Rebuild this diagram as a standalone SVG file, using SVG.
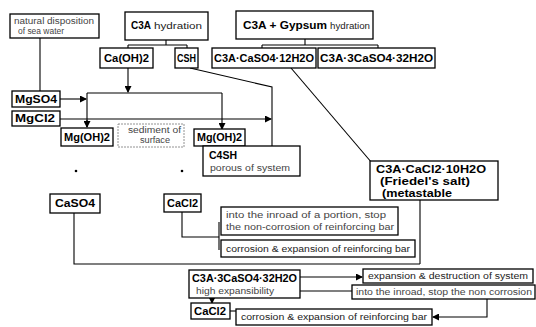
<svg xmlns="http://www.w3.org/2000/svg" width="536" height="327" viewBox="0 0 536 327">
<defs>
<marker id="ar" markerWidth="7" markerHeight="7" refX="6" refY="3.5" orient="auto" markerUnits="userSpaceOnUse">
<path d="M0,0 L7,3.5 L0,7 z" fill="#000"/>
</marker>
<style>
.b{fill:#fff;stroke:#000;stroke-width:1.3}
.lb{fill:none;stroke:#777;stroke-width:0.8;stroke-dasharray:2 1}
.c{fill:none;stroke:#000;stroke-width:1.1}
.t{font-family:"Liberation Sans",Arial,sans-serif;font-size:10.5px;font-weight:bold;fill:#000}
.s{font-family:"Liberation Sans",Arial,sans-serif;font-size:8.5px;fill:#444}
.r{font-family:"Liberation Sans",Arial,sans-serif;font-size:8.5px;fill:#222}
</style>
</defs>
<rect width="536" height="327" fill="#fff"/>
<g id="connectors">
<path class="c" d="M40,38 V91"/>
<path class="c" d="M166,40 V45 M128,45 H187 M128,45 V48 M187,45 V48"/>
<path class="c" d="M305,39 V45 M262,45 H378 M262,45 V48 M378,45 V48"/>
<path class="c" d="M128,68 V92" marker-end="url(#ar)"/>
<path class="c" d="M87,93 H222 M87,93 V127"/>
<path class="c" d="M87,120 V127" marker-end="url(#ar)"/>
<path class="c" d="M60,99 H86" marker-end="url(#ar)"/>
<path class="c" d="M222,93 V129" marker-end="url(#ar)"/>
<path class="c" d="M60,119 H271" marker-end="url(#ar)"/>
<path class="c" d="M190,68 L272,87 V146"/>
<path class="c" d="M291,68 L372,163"/>
<path class="c" d="M182,212 V237 H219 M219,222 V250"/>
<path class="c" d="M420,200 V264 M74,212 V264 H420"/>
<path class="c" d="M300,277 H362" marker-end="url(#ar)"/>
<path class="c" d="M300,291 H352"/>
<path class="c" d="M212,298 V303" marker-end="url(#ar)"/>
<path class="c" d="M230,311 H236"/>
<path class="c" d="M487,299 V317 H433" marker-end="url(#ar)"/>
</g>
<g id="n-natural">
<rect class="b" x="10" y="14" width="89" height="24"/>
<text class="s" x="14" y="24" textLength="80" lengthAdjust="spacingAndGlyphs">natural disposition</text>
<text class="s" x="18" y="34" textLength="46" lengthAdjust="spacingAndGlyphs">of sea water</text>
</g>
<g id="n-c3a">
<rect class="b" x="125" y="12" width="83" height="28"/>
<text class="t" x="131" y="29" textLength="20" lengthAdjust="spacingAndGlyphs">C3A</text>
<text class="r" x="154" y="29" textLength="48" lengthAdjust="spacingAndGlyphs">hydration</text>
</g>
<g id="n-gypsum">
<rect class="b" x="236" y="11" width="137" height="28"/>
<text class="t" x="243" y="29" textLength="84" lengthAdjust="spacingAndGlyphs">C3A + Gypsum</text>
<text class="r" x="330" y="29" textLength="40" lengthAdjust="spacingAndGlyphs">hydration</text>
</g>
<g id="n-caoh">
<rect class="b" x="100" y="48" width="53" height="20"/>
<text class="t" x="104" y="62" textLength="45" lengthAdjust="spacingAndGlyphs">Ca(OH)2</text>
</g>
<g id="n-csh">
<rect class="b" x="175" y="48" width="23" height="20"/>
<text class="t" x="177" y="62" textLength="19" lengthAdjust="spacingAndGlyphs">CSH</text>
</g>
<g id="n-mono">
<rect class="b" x="212" y="48" width="104" height="20"/>
<text class="t" x="214" y="62" textLength="100" lengthAdjust="spacingAndGlyphs">C3A·CaSO4·12H2O</text>
</g>
<g id="n-ettr">
<rect class="b" x="318" y="48" width="117" height="20"/>
<text class="t" x="320" y="62" textLength="113" lengthAdjust="spacingAndGlyphs">C3A·3CaSO4·32H2O</text>
</g>
<g id="n-mgso4">
<rect class="b" x="12" y="91" width="48" height="16"/>
<text class="t" x="15" y="103" textLength="42" lengthAdjust="spacingAndGlyphs">MgSO4</text>
</g>
<g id="n-mgcl2">
<rect class="b" x="12" y="111" width="48" height="15"/>
<text class="t" x="15" y="122" textLength="40" lengthAdjust="spacingAndGlyphs">MgCl2</text>
</g>
<g id="n-mgoh-l">
<rect class="b" x="61" y="128" width="52" height="18"/>
<text class="t" x="64" y="141" textLength="46" lengthAdjust="spacingAndGlyphs">Mg(OH)2</text>
</g>
<g id="n-sediment">
<rect class="lb" x="118" y="124" width="66" height="23"/>
<text class="s" x="128" y="133" textLength="53" lengthAdjust="spacingAndGlyphs">sediment of</text>
<text class="s" x="140" y="143" textLength="30" lengthAdjust="spacingAndGlyphs">surface</text>
</g>
<g id="n-mgoh-r">
<rect class="b" x="194" y="129" width="51" height="17"/>
<text class="t" x="197" y="141" textLength="45" lengthAdjust="spacingAndGlyphs">Mg(OH)2</text>
</g>
<g id="n-c4sh">
<rect class="b" x="203" y="146" width="97" height="30"/>
<text class="t" x="209" y="159" textLength="28" lengthAdjust="spacingAndGlyphs">C4SH</text>
<text class="s" x="210" y="171" textLength="80" lengthAdjust="spacingAndGlyphs">porous of system</text>
</g>
<g id="dots">
<circle cx="76" cy="171" r="1.3" fill="#000"/>
<circle cx="182" cy="171" r="1.3" fill="#000"/>
</g>
<g id="n-caso4">
<rect class="b" x="50" y="194" width="50" height="19"/>
<text class="t" x="55" y="207" textLength="40" lengthAdjust="spacingAndGlyphs">CaSO4</text>
</g>
<g id="n-cacl2">
<rect class="b" x="164" y="194" width="37" height="18"/>
<text class="t" x="167" y="207" textLength="31" lengthAdjust="spacingAndGlyphs">CaCl2</text>
</g>
<g id="n-friedel">
<rect class="b" x="370" y="161" width="128" height="39"/>
<text class="t" x="376" y="173" textLength="110" lengthAdjust="spacingAndGlyphs">C3A·CaCl2·10H2O</text>
<text class="t" x="380" y="185" textLength="90" lengthAdjust="spacingAndGlyphs">(Friedel's salt)</text>
<text class="t" x="382" y="197" textLength="70" lengthAdjust="spacingAndGlyphs">(metastable</text>
</g>
<g id="n-inroad1">
<rect class="b" x="221" y="207" width="177" height="28"/>
<text class="s" x="226" y="218" textLength="160" lengthAdjust="spacingAndGlyphs">into the inroad of a portion, stop</text>
<text class="s" x="226" y="230" textLength="168" lengthAdjust="spacingAndGlyphs">the non-corrosion of reinforcing bar</text>
</g>
<g id="n-corr1">
<rect class="b" x="221" y="240" width="194" height="17"/>
<text class="r" x="226" y="252" textLength="184" lengthAdjust="spacingAndGlyphs">corrosion &amp; expansion of reinforcing bar</text>
</g>
<g id="n-ettr2">
<rect class="b" x="189" y="270" width="111" height="28"/>
<text class="t" x="192" y="282" textLength="105" lengthAdjust="spacingAndGlyphs">C3A·3CaSO4·32H2O</text>
<text class="s" x="196" y="294" textLength="78" lengthAdjust="spacingAndGlyphs">high  expansibility</text>
</g>
<g id="n-expansion">
<rect class="b" x="363" y="269" width="170" height="14"/>
<text class="r" x="368" y="279" textLength="160" lengthAdjust="spacingAndGlyphs">expansion &amp; destruction of system</text>
</g>
<g id="n-inroad2">
<rect class="b" x="352" y="285" width="183" height="14"/>
<text class="s" x="356" y="295" textLength="176" lengthAdjust="spacingAndGlyphs">into the inroad, stop the non corrosion</text>
</g>
<g id="n-cacl2b">
<rect class="b" x="191" y="303" width="39" height="16"/>
<text class="t" x="194" y="315" textLength="32" lengthAdjust="spacingAndGlyphs">CaCl2</text>
</g>
<g id="n-corr2">
<rect class="b" x="236" y="309" width="196" height="16"/>
<text class="r" x="241" y="320" textLength="186" lengthAdjust="spacingAndGlyphs">corrosion &amp; expansion of reinforcing bar</text>
</g>
</svg>
